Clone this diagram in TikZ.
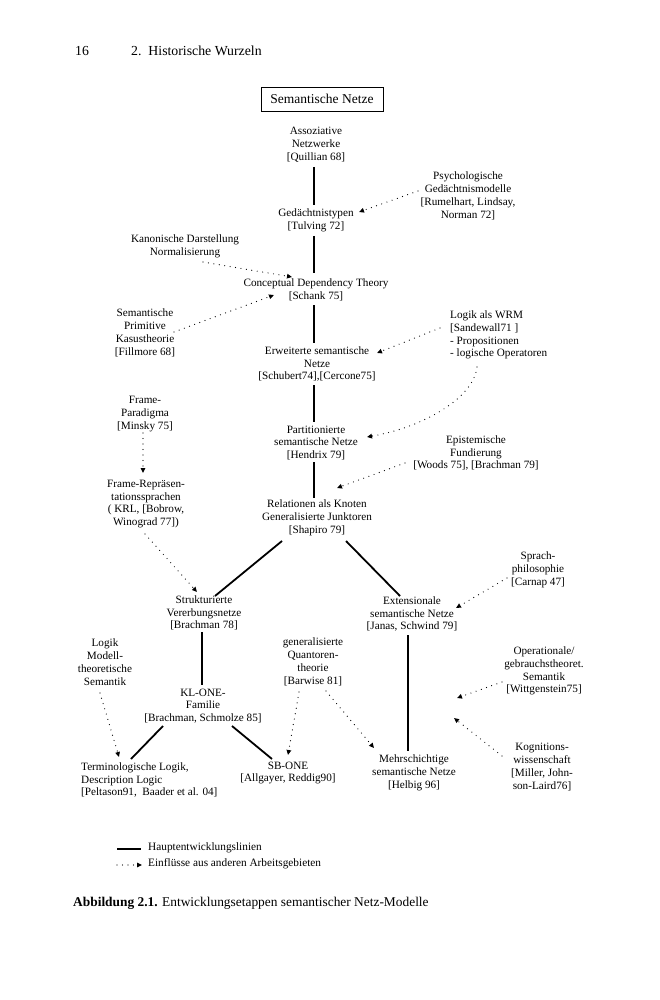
\documentclass[tikz,border=0pt]{standalone}
\usepackage{fontspec}
\setmainfont{Liberation Serif}
\usetikzlibrary{arrows.meta,calc}
\begin{document}
\begin{tikzpicture}[x=1pt,y=-1pt,
  lbl/.style={align=center,inner sep=0pt,font=\fontsize{11.2}{12.8}\selectfont},
  lbll/.style={align=left,inner sep=0pt,anchor=west,font=\fontsize{11.2}{12.8}\selectfont},
  main/.style={line width=1.8pt},
  infl/.style={line width=1.2pt,line cap=round,dash pattern=on 0pt off 5.5pt,-{Triangle[length=5pt,width=4.5pt]}},
  hdr/.style={inner sep=0pt,anchor=west,font=\fontsize{13.8}{16}\selectfont},
  legtxt/.style={inner sep=0pt,anchor=west,font=\fontsize{11.3}{13}\selectfont},
]
\fill[white] (0,0) rectangle (659,1000);
\useasboundingbox (0,0) rectangle (659,1000);

% header
\node[hdr] (pageno) at (75,51) {16};
\node[hdr] (chap) at (131,51) {2.\ \ Historische Wurzeln};

% title box
\node[draw,line width=0.8pt,minimum width=122pt,minimum height=24pt,inner sep=0pt,font=\fontsize{13.5}{16}\selectfont] (title) at (322,99) {Semantische Netze};

% nodes
\node[lbl] (assoz) at (316,145) {Assoziative\\Netzwerke\\{}[Quillian 68]};
\node[lbl] (gedae) at (316,220) {Gedächtnistypen\\{}[Tulving 72]};
\node[lbl] (psych) at (468,196) {Psychologische\\Gedächtnismodelle\\{}[Rumelhart, Lindsay,\\Norman 72]};
\node[lbl] (kanon) at (185,246) {Kanonische Darstellung\\Normalisierung};
\node[lbl] (cdt) at (316,290) {Conceptual Dependency Theory\\{}[Schank 75]};
\node[lbl] (semprim) at (145,333) {Semantische\\Primitive\\Kasustheorie\\{}[Fillmore 68]};
\node[lbll] (logik) at (450,335) {Logik als WRM\\{}[Sandewall71 ]\\- Propositionen\\- logische Operatoren};
\node[lbl] (erw) at (317,364) {Erweiterte semantische\\Netze\\{}[Schubert74],[Cercone75]};
\node[lbl] (frame) at (145,414) {Frame-\\Paradigma\\{}[Minsky 75]};
\node[lbl] (part) at (316,443) {Partitionierte\\semantische Netze\\{}[Hendrix 79]};
\node[lbl] (epist) at (476,453) {Epistemische\\Fundierung\\{}[Woods 75], [Brachman 79]};
\node[lbl] (framerep) at (146,504) {Frame-Repräsen-\\tationssprachen\\( KRL, [Bobrow,\\Winograd 77])};
\node[lbl] (rel) at (317,518) {Relationen als Knoten\\Generalisierte Junktoren\\{}[Shapiro 79]};
\node[lbl] (sprach) at (538,570) {Sprach-\\philosophie\\{}[Carnap 47]};
\node[lbl] (struk) at (204,613) {Strukturierte\\Vererbungsnetze\\{}[Brachman 78]};
\node[lbl] (ext) at (412,614) {Extensionale\\semantische Netze\\{}[Janas, Schwind 79]};
\node[lbl] (modell) at (105,662) {Logik\\Modell-\\theoretische\\Semantik};
\node[lbl] (quant) at (313,662) {generalisierte\\Quantoren-\\theorie\\{}[Barwise 81]};
\node[lbl] (oper) at (544,671) {Operationale/\\gebrauchstheoret.\\Semantik\\{}[Wittgenstein75]};
\node[lbl] (klone) at (203,706) {KL-ONE-\\Familie\\{}[Brachman, Schmolze 85]};
\node[lbl] (kogn) at (542,767) {Kognitions-\\wissenschaft\\{}[Miller, John-\\son-Laird76]};
\node[lbll] (term) at (81,780) {Terminologische Logik,\\Description Logic\\{}[Peltason91,\ \ Baader et al. 04]};
\node[lbl] (sbone) at (288,773) {SB-ONE\\{}[Allgayer, Reddig90]};
\node[lbl] (mehr) at (414,773) {Mehrschichtige\\semantische Netze\\{}[Helbig 96]};

\coordinate (tipO) at (457,698);
\coordinate (tipK) at (454,718);

% main development lines
\draw[main] ($(assoz)+(-2,22)$) -- ($(gedae)+(-2,-15)$);
\draw[main] ($(gedae)+(-2,16)$) -- ($(cdt)+(-2,-17)$);
\draw[main] ($(cdt)+(-2,15)$) -- ($(erw)+(-3,-21)$);
\draw[main] ($(erw)+(-3,21)$) -- ($(part)+(-2,-21)$);
\draw[main] ($(part)+(-2,19)$) -- ($(rel)+(-3,-20)$);
\draw[main] ($(rel)+(-35,23)$) -- ($(struk)+(11,-17)$);
\draw[main] ($(rel)+(29,23)$) -- ($(ext)+(-12,-18)$);
\draw[main] ($(struk)+(-2,19)$) -- ($(klone)+(-1,-21)$);
\draw[main] ($(ext)+(-4,21)$) -- ($(mehr)+(-6,-22)$);
\draw[main] ($(klone)+(-40,20)$) -- ($(term.west)+(50,-21)$);
\draw[main] ($(klone)+(29,20)$) -- ($(sbone)+(-16,-14)$);

% influences
\draw[infl] ($(psych)+(-50,-5)$) -- ($(gedae)+(43,-8)$);
\draw[infl] ($(kanon)+(18,16)$) -- ($(cdt)+(-24,-13)$);
\draw[infl] ($(semprim)+(29,-1)$) -- ($(cdt)+(-42,5)$);
\draw[infl] ($(logik.west)+(-10,-7)$) -- ($(erw)+(60,-11)$);
\draw[infl] ($(logik.west)+(27,32)$) .. controls (474,397) and (425,427) .. ($(part)+(51,-6)$);
\draw[infl] ($(frame)+(-2,19)$) -- ($(framerep)+(-3,-31)$);
\draw[infl] ($(epist)+(-71,10)$) -- ($(rel)+(20,-30)$);
\draw[infl] ($(framerep)+(-1,30)$) -- ($(struk)+(-7,-21)$);
\draw[infl] ($(sprach)+(-31,8)$) -- ($(ext)+(44,-6)$);
\draw[infl] ($(modell)+(-5,31)$) -- ($(term.west)+(38,-23)$);
\draw[infl] ($(quant)+(-14,30)$) -- ($(sbone)+(0,-18)$);
\draw[infl] ($(quant)+(13,29)$) -- ($(mehr)+(-40,-25)$);
\draw[infl] ($(oper)+(-42,11)$) -- (tipO);
\draw[infl] ($(kogn)+(-40,-11)$) -- (tipK);

% legend
\node[legtxt] (legA) at (148,848) {Hauptentwicklungslinien};
\node[legtxt] (legB) at (148,864) {Einflüsse aus anderen Arbeitsgebieten};
\coordinate (legAs) at (117,849);
\coordinate (legBs) at (117,865);
\draw[main,line width=1.5pt] (legAs) -- ($(legA.west)+(-7,1)$);
\draw[infl] (legBs) -- ($(legB.west)+(-6,1)$);

% caption
\node[inner sep=0pt,anchor=west,font=\fontsize{13.4}{16}\selectfont] (cap) at (73,903) {\textbf{Abbildung 2.1.} Entwicklungsetappen semantischer Netz-Modelle};
\end{tikzpicture}
\end{document}
